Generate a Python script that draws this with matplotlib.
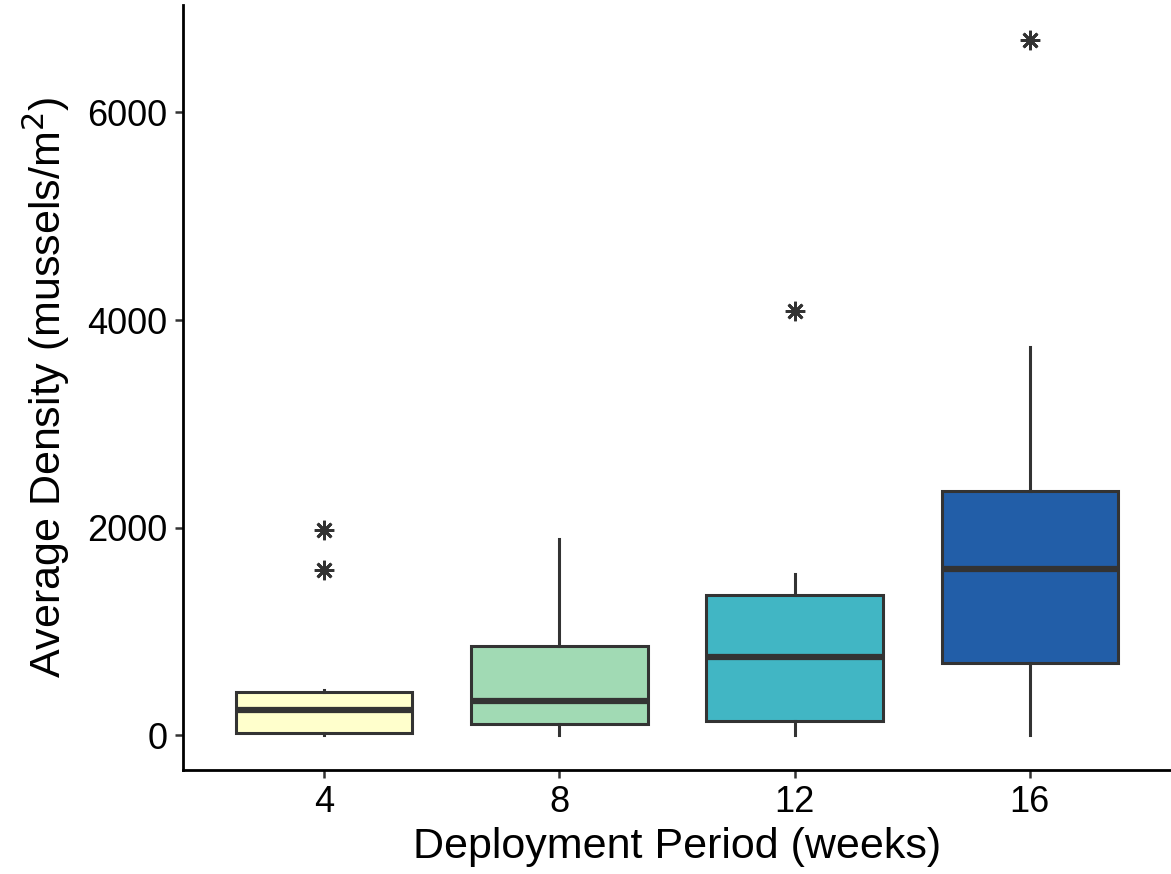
import matplotlib
matplotlib.use("Agg")
import matplotlib.pyplot as plt

categories = ["4", "8", "12", "16"]
whislo = [0, 0, 0, 0]
q1 = [26, 109, 138, 696]
med = [240, 334, 757, 1602]
q3 = [420, 862, 1349, 2353]
whishi = [433, 1888, 1555, 3740]
fliers = [[1596, 1974], [], [4083], [6700]]
colors = ["#FFFFCC", "#A1DAB4", "#41B6C4", "#225EA8"]

plt.rcParams['font.family'] = ['Liberation Sans', 'DejaVu Sans']

fig = plt.figure(figsize=(11.71, 8.74), dpi=100)
ax = fig.add_axes([0.1563, 0.119, 0.8437, 0.8753])

stats = []
for i, c in enumerate(categories):
    stats.append(dict(label=c, whislo=whislo[i], q1=q1[i], med=med[i],
                      q3=q3[i], whishi=whishi[i], fliers=fliers[i]))

edge = "#333333"
bp = ax.bxp(stats, positions=[1, 2, 3, 4], widths=0.75, patch_artist=True,
            showcaps=False,
            boxprops=dict(edgecolor=edge, linewidth=2.2),
            whiskerprops=dict(color=edge, linewidth=2.2),
            medianprops=dict(color=edge, linewidth=4.5, solid_capstyle='butt'),
            flierprops=dict(marker=(8, 2, 0), markersize=14, markeredgecolor=edge,
                            markerfacecolor=edge, markeredgewidth=2.0, linestyle='none'))
for patch, col in zip(bp['boxes'], colors):
    patch.set_facecolor(col)

ax.set_xlim(0.4, 4.6)
ax.set_ylim(-335, 7035)
ax.set_yticks([0, 2000, 4000, 6000])
ax.set_xticks([1, 2, 3, 4])
ax.set_xticklabels(categories)

for s in ['top', 'right']:
    ax.spines[s].set_visible(False)
for s in ['left', 'bottom']:
    ax.spines[s].set_linewidth(2.0)
    ax.spines[s].set_color('black')

ax.tick_params(axis='both', length=6, width=1.8, color='#333333',
               labelsize=26, labelcolor='black', pad=5)

ax.set_xlabel("Deployment Period (weeks)", fontsize=31, labelpad=5)
ax.set_ylabel("Average Density (mussels/m$^2$)", fontsize=31, labelpad=11)

fig.savefig("out.png", dpi=100)
